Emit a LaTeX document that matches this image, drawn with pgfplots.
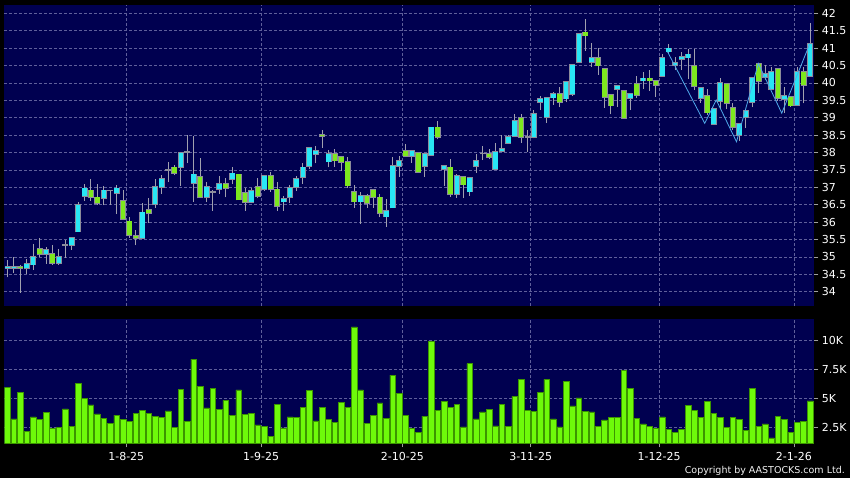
\documentclass[border=0pt]{standalone}
\usepackage{pgfplots}
\pgfplotsset{compat=1.18}
\usepackage{pgfplotstable}
\usepackage{fontspec}
\setmainfont{DejaVu Sans}

\definecolor{panel}{RGB}{0,0,80}
\definecolor{gridc}{RGB}{95,95,155}
\definecolor{upc}{RGB}{40,230,245}
\definecolor{dnc}{RGB}{125,232,30}
\definecolor{edge}{RGB}{140,140,155}
\definecolor{wick}{RGB}{160,160,175}
\definecolor{vol}{RGB}{110,250,10}
\definecolor{voledge}{RGB}{60,150,0}
\definecolor{zz}{RGB}{80,170,235}

% daily bars: open, high, low, close, volume (K)
\pgfplotstableread{
i O H L C V
0 34.69 34.90 34.41 34.72 5.91
1 34.69 34.99 34.53 34.72 3.22
2 34.72 34.77 33.97 34.68 5.52
3 34.67 34.93 34.51 34.79 2.16
4 34.78 35.37 34.63 34.99 3.39
5 35.22 35.55 34.99 35.08 3.16
6 35.09 35.28 34.80 35.20 3.79
7 35.08 35.34 34.77 34.82 2.41
8 34.82 35.23 34.78 35.01 2.50
9 35.34 35.49 34.98 35.34 4.08
10 35.34 35.54 35.20 35.54 2.56
11 35.73 36.57 35.73 36.49 6.26
12 36.76 37.10 36.62 36.97 5.00
13 36.91 37.23 36.62 36.71 4.43
14 36.71 37.10 36.49 36.56 3.65
15 36.69 37.04 36.48 36.91 3.30
16 36.91 36.93 36.49 36.91 2.81
17 36.83 37.07 36.23 36.97 3.56
18 36.62 36.91 36.06 36.08 3.19
19 36.02 36.16 35.54 35.62 3.00
20 35.61 35.76 35.33 35.54 3.73
21 35.54 36.54 35.53 36.28 3.97
22 36.35 36.68 35.97 36.25 3.68
23 36.51 37.23 36.42 37.00 3.46
24 37.00 37.35 36.81 37.23 3.38
25 37.49 37.72 37.16 37.49 3.91
26 37.57 37.64 37.35 37.42 2.50
27 37.59 38.00 37.04 37.98 5.77
28 38.02 38.50 37.71 38.02 3.03
29 37.13 38.48 36.59 37.37 8.38
30 37.31 37.85 36.70 36.71 6.03
31 36.71 37.16 36.59 37.02 4.17
32 36.87 36.92 36.33 36.87 5.84
33 36.94 37.33 36.81 37.09 4.05
34 37.09 37.26 36.71 36.97 4.83
35 37.23 37.57 37.09 37.40 3.53
36 37.37 37.37 36.65 36.65 5.72
37 36.83 36.97 36.33 36.58 3.62
38 36.58 36.97 36.54 36.90 3.71
39 37.02 37.26 36.68 36.75 2.70
40 36.94 37.35 36.90 37.33 2.56
41 37.33 37.45 36.88 36.94 1.72
42 36.94 37.16 36.33 36.46 4.47
43 36.59 36.75 36.33 36.66 2.44
44 36.71 37.07 36.56 36.99 3.39
45 37.02 37.33 36.90 37.23 3.33
46 37.29 37.69 37.10 37.57 4.20
47 37.62 38.12 37.52 38.12 5.67
48 37.95 38.19 37.69 38.05 3.06
49 38.50 38.65 38.14 38.47 4.22
50 37.74 38.07 37.57 37.95 3.16
51 37.95 38.09 37.59 37.77 2.91
52 37.88 37.88 37.48 37.72 4.64
53 37.72 37.86 36.97 37.05 4.22
54 36.86 37.07 36.42 36.59 11.16
55 36.59 36.88 35.95 36.76 5.72
56 36.76 36.81 36.42 36.56 2.84
57 36.92 36.92 36.42 36.71 3.50
58 36.71 36.81 36.14 36.25 4.60
59 36.16 36.66 35.87 36.31 3.30
60 36.42 37.86 36.42 37.61 7.00
61 37.62 37.90 37.30 37.76 5.45
62 38.04 38.24 37.91 37.91 3.50
63 37.91 38.04 37.71 38.04 2.41
64 37.98 37.98 37.42 37.45 2.09
65 37.62 37.98 37.30 37.97 3.47
66 37.92 38.72 37.92 38.72 9.94
67 38.72 38.90 38.38 38.44 3.97
68 37.52 37.61 37.04 37.61 4.75
69 37.57 37.80 36.73 36.80 4.23
70 36.80 37.37 36.70 37.32 4.46
71 37.30 37.30 36.68 37.08 2.54
72 36.88 37.26 36.75 37.26 7.99
73 37.62 37.97 37.42 37.77 3.22
74 37.97 38.20 37.78 37.97 3.83
75 37.97 38.09 37.80 37.88 4.05
76 37.52 38.26 37.52 38.02 2.62
77 38.03 38.50 38.03 38.10 4.50
78 38.28 38.50 38.26 38.44 2.60
79 38.48 39.10 38.48 38.90 5.17
80 39.00 39.10 38.28 38.45 6.66
81 38.45 38.66 38.02 38.45 3.97
82 38.45 39.22 38.41 39.12 3.86
83 39.46 39.62 39.22 39.53 5.53
84 39.01 39.56 38.86 39.56 6.63
85 39.58 39.75 39.38 39.68 3.22
86 39.68 39.89 39.30 39.46 2.53
87 39.55 40.03 39.44 40.03 6.46
88 39.67 40.52 39.62 40.51 4.34
89 40.61 41.42 40.58 41.42 5.03
90 41.45 41.83 40.93 41.36 3.85
91 40.59 41.14 40.47 40.73 3.82
92 40.73 41.01 40.23 40.50 2.55
93 40.39 40.39 39.29 39.60 3.13
94 39.65 39.65 39.10 39.35 3.33
95 39.82 39.91 39.32 39.91 3.33
96 39.78 39.78 38.98 39.00 7.44
97 39.56 39.68 39.22 39.68 5.86
98 39.96 40.20 39.58 39.65 3.30
99 40.07 40.32 39.82 40.13 2.79
100 40.13 40.37 39.77 40.07 2.55
101 40.06 40.06 39.60 39.94 2.41
102 40.21 40.82 40.21 40.73 3.39
103 40.90 41.11 40.82 40.99 2.35
104 40.52 40.75 40.37 40.58 2.03
105 40.68 40.90 40.37 40.74 2.35
106 40.73 40.97 40.11 40.82 4.40
107 40.50 40.97 39.80 39.92 3.99
108 39.56 39.86 39.43 39.86 3.36
109 39.63 39.84 39.08 39.15 4.74
110 38.82 39.25 38.82 39.25 3.71
111 39.49 40.13 39.24 40.01 3.33
112 39.96 39.96 39.24 39.41 2.47
113 39.27 39.41 38.65 38.72 3.33
114 38.50 38.82 38.34 38.82 3.19
115 39.01 39.20 38.70 39.20 2.24
116 39.46 40.15 39.30 40.15 5.86
117 40.54 40.54 39.72 40.06 2.59
118 40.18 40.51 40.08 40.25 2.79
119 39.82 40.47 39.82 40.32 1.58
120 40.39 40.39 39.49 39.56 3.45
121 39.54 39.87 39.13 39.63 3.16
122 39.60 39.60 39.32 39.35 2.03
123 39.37 40.45 39.37 40.32 2.90
124 40.32 40.45 39.41 39.94 3.04
125 40.20 41.73 40.20 41.11 4.77
}\ohlc

\pgfplotsset{
  panelax/.style={
    scale only axis, width=810pt, xmin=-0.5, xmax=125.67,
    axis background/.style={fill=panel},
    axis line style={draw=none},
    grid=major,
    major grid style={gridc, dash pattern=on 3pt off 2pt, line width=0.6pt},
    xtick={18.5,39.5,61.5,81.5,101.5,122.5},
    tick align=outside, major tick length=4pt,
    tick style={gray!75, line width=0.7pt},
    ytick pos=right, yticklabel pos=right,
    ticklabel style={font=\fontsize{11}{13}\selectfont, text=white},
    /pgf/number format/assume math mode=true,
  },
  candle/.style={no markers, draw=none, forget plot,
    error bars/.cd, y dir=plus, y explicit, error mark=none,
    error bar style={#1}},
}

\begin{document}
\begin{tikzpicture}
\useasboundingbox (0,0) rectangle (850pt,478pt);
\fill[black] (0,0) rectangle (850pt,478pt);

% price panel
\begin{axis}[panelax, at={(4.3pt,172pt)}, anchor=south west, height=301pt,
  ymin=33.59, ymax=42.24,
  ytick={34,34.5,35,35.5,36,36.5,37,37.5,38,38.5,39,39.5,40,40.5,41,41.5,42},
  xticklabels={}, xtick style={draw=none}]
\addplot[candle={draw=wick, line width=1pt}]
  table[x=i, y=L, y error plus expr=\thisrow{H}-\thisrow{L}] {\ohlc};
\addplot[candle={draw=edge, line width=6pt}]
  table[x=i, y expr={min(\thisrow{O},\thisrow{C})-0.025},
        y error plus expr={abs(\thisrow{C}-\thisrow{O})+0.05}] {\ohlc};
\addplot[restrict expr to domain={\thisrow{C}-\thisrow{O}}{0:20},
  candle={draw=upc, line width=4.6pt}]
  table[x=i, y=O, y error plus expr=\thisrow{C}-\thisrow{O}] {\ohlc};
\addplot[restrict expr to domain={\thisrow{C}-\thisrow{O}}{-20:-0.001},
  candle={draw=dnc, line width=4.6pt}]
  table[x=i, y=C, y error plus expr=\thisrow{O}-\thisrow{C}] {\ohlc};
\addplot[zz, line width=0.8pt, mark=none] coordinates {
  (102.8,40.90) (108.6,38.84) (110.4,39.51) (113.55,38.31)
  (116.95,40.56) (120.6,39.13) (125.0,41.14)};
\end{axis}

% volume panel
\begin{axis}[panelax, at={(4.3pt,34.7pt)}, anchor=south west, height=124.3pt,
  ymin=1.12, ymax=11.84,
  ytick={2.5,5,7.5,10}, yticklabels={2.5K,5K,7.5K,10K},
  xtick pos=left,
  xticklabels={1-8-25,1-9-25,2-10-25,3-11-25,1-12-25,2-1-26},
  xticklabel style={yshift=-2pt}]
\addplot[ybar, bar width=0.88, fill=vol, draw=voledge, line width=0.6pt]
  table[x=i, y=V] {\ohlc};
\end{axis}

\node[anchor=base east, text=white!90!gray, font=\fontsize{9.5}{11}\selectfont, inner sep=0pt]
  at (845pt,4pt) {Copyright by AASTOCKS.com Ltd.};
\end{tikzpicture}
\end{document}
